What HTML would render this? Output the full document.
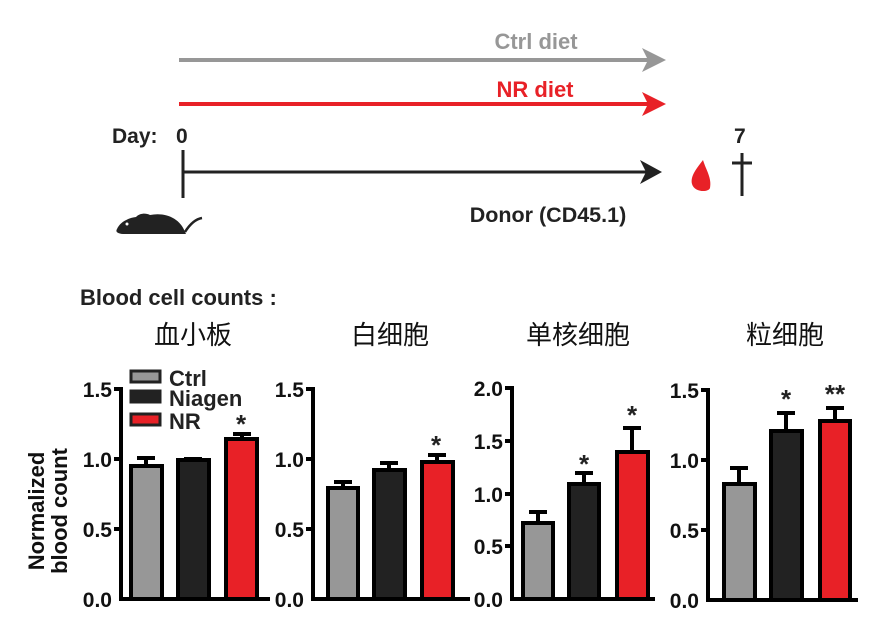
<!DOCTYPE html>
<html><head><meta charset="utf-8"><style>
html,body{margin:0;padding:0;background:#fff;}
svg{display:block;}
text{font-family:"Liberation Sans","Noto Sans CJK SC",sans-serif;}
.b{font-weight:bold;}
.t{font-size:21px;font-weight:bold;fill:#111;}
</style></head><body>
<svg width="893" height="627" viewBox="0 0 893 627" xmlns="http://www.w3.org/2000/svg">
<text x="536" y="49" text-anchor="middle" class="b" font-size="22" fill="#979797">Ctrl diet</text>
<line x1="179" y1="60" x2="650" y2="60" stroke="#979797" stroke-width="4"/>
<polygon points="642,48 666,60 642,72 648,60" fill="#979797"/>
<text x="535" y="97" text-anchor="middle" class="b" font-size="22" fill="#e82127">NR diet</text>
<line x1="179" y1="104" x2="650" y2="104" stroke="#e82127" stroke-width="4"/>
<polygon points="642,92 666,104 642,116 648,104" fill="#e82127"/>
<text x="112" y="143" class="b" font-size="21" fill="#222">Day:</text>
<text x="176" y="143" class="b" font-size="21" fill="#222">0</text>
<line x1="183" y1="150" x2="183" y2="198" stroke="#222" stroke-width="3"/>
<line x1="183" y1="172" x2="650" y2="172" stroke="#222" stroke-width="3"/>
<polygon points="640,160 662,172 640,184 646,172" fill="#222"/>
<text x="734" y="143" class="b" font-size="21" fill="#222">7</text>
<line x1="742" y1="153" x2="742" y2="196" stroke="#222" stroke-width="3"/>
<line x1="732" y1="163" x2="752" y2="163" stroke="#222" stroke-width="3"/>
<path d="M703,160 C697,168 690,176 692,184 C694,192 708,193 710,188 C712,178 706,170 703,160 Z" fill="#e82127"/>
<text x="548" y="222" text-anchor="middle" class="b" font-size="21.5" fill="#222">Donor (CD45.1)</text>
<path d="M117,229 C120,222 128,218 136,217 C140,213 146,213 150,215 C165,212 180,218 185,232 L186,234 L125,234 C118,234 115,232 117,229 Z" fill="#222"/>
<path d="M185,232 C190,224 196,219 202,218" stroke="#222" stroke-width="2.5" fill="none"/>
<circle cx="127" cy="224" r="1.5" fill="#fff"/>

<text x="80" y="305" class="b" font-size="22" fill="#222">Blood cell counts :</text>
<text x="193" y="344" text-anchor="middle" font-size="26" fill="#111">血小板</text>
<text x="390" y="344" text-anchor="middle" font-size="26" fill="#111">白细胞</text>
<text x="578" y="344" text-anchor="middle" font-size="26" fill="#111">单核细胞</text>
<text x="785" y="344" text-anchor="middle" font-size="26" fill="#111">粒细胞</text>

<text transform="translate(44,511) rotate(-90)" text-anchor="middle" class="b" font-size="22" fill="#111">Normalized</text>
<text transform="translate(67,511) rotate(-90)" text-anchor="middle" class="b" font-size="22" fill="#111">blood count</text>

<!-- Panel 1 -->
<g stroke="#000" stroke-width="4">
<line x1="121" y1="387" x2="121" y2="601"/>
<line x1="119" y1="599" x2="270" y2="599"/>
<line x1="114" y1="389" x2="121" y2="389"/><line x1="114" y1="459" x2="121" y2="459"/><line x1="114" y1="529" x2="121" y2="529"/>
</g>
<g class="t" text-anchor="end">
<text x="112" y="397">1.5</text><text x="112" y="467">1.0</text><text x="112" y="537">0.5</text><text x="112" y="607">0.0</text>
</g>
<g stroke="#000" stroke-width="4">
<line x1="146" y1="466" x2="146" y2="458"/><line x1="137" y1="458" x2="155" y2="458"/>
<rect x="131" y="466" width="31" height="133" fill="#979797"/>
<line x1="193" y1="460" x2="193" y2="459"/><line x1="184" y1="459" x2="202" y2="459"/>
<rect x="178" y="460" width="31" height="139" fill="#222"/>
<line x1="242" y1="439" x2="242" y2="434"/><line x1="233" y1="434" x2="251" y2="434"/>
<rect x="226" y="439" width="31" height="160" fill="#e82127"/>
</g>
<text x="241" y="433" text-anchor="middle" class="b" font-size="26" fill="#222">*</text>
<g stroke="#222" stroke-width="3">
<rect x="131" y="371" width="29" height="11" fill="#979797"/>
<rect x="131" y="391" width="29" height="11" fill="#222"/>
<rect x="131" y="414" width="29" height="11" fill="#e82127"/>
</g>
<g class="b" font-size="22" fill="#222">
<text x="169" y="386">Ctrl</text><text x="169" y="406">Niagen</text><text x="169" y="429">NR</text>
</g>

<!-- Panel 2 -->
<g stroke="#000" stroke-width="4">
<line x1="313" y1="387" x2="313" y2="601"/>
<line x1="311" y1="599" x2="470" y2="599"/>
<line x1="306" y1="389" x2="313" y2="389"/><line x1="306" y1="459" x2="313" y2="459"/><line x1="306" y1="529" x2="313" y2="529"/>
</g>
<g class="t" text-anchor="end">
<text x="304" y="397">1.5</text><text x="304" y="467">1.0</text><text x="304" y="537">0.5</text><text x="304" y="607">0.0</text>
</g>
<g stroke="#000" stroke-width="4">
<line x1="343" y1="488" x2="343" y2="482"/><line x1="334" y1="482" x2="352" y2="482"/>
<rect x="328" y="488" width="30" height="111" fill="#979797"/>
<line x1="389" y1="470" x2="389" y2="463"/><line x1="380" y1="463" x2="398" y2="463"/>
<rect x="374" y="470" width="31" height="129" fill="#222"/>
<line x1="437" y1="462" x2="437" y2="455"/><line x1="428" y1="455" x2="446" y2="455"/>
<rect x="422" y="462" width="31" height="137" fill="#e82127"/>
</g>
<text x="436" y="454" text-anchor="middle" class="b" font-size="26" fill="#222">*</text>

<!-- Panel 3 -->
<g stroke="#000" stroke-width="4">
<line x1="512" y1="386" x2="512" y2="601"/>
<line x1="510" y1="599" x2="655" y2="599"/>
<line x1="505" y1="388" x2="512" y2="388"/><line x1="505" y1="441" x2="512" y2="441"/><line x1="505" y1="494" x2="512" y2="494"/><line x1="505" y1="546" x2="512" y2="546"/>
</g>
<g class="t" text-anchor="end">
<text x="503" y="396">2.0</text><text x="503" y="449">1.5</text><text x="503" y="502">1.0</text><text x="503" y="554">0.5</text><text x="503" y="607">0.0</text>
</g>
<g stroke="#000" stroke-width="4">
<line x1="538" y1="523" x2="538" y2="512"/><line x1="529" y1="512" x2="547" y2="512"/>
<rect x="523" y="523" width="30" height="76" fill="#979797"/>
<line x1="584" y1="484" x2="584" y2="473"/><line x1="575" y1="473" x2="593" y2="473"/>
<rect x="569" y="484" width="30" height="115" fill="#222"/>
<line x1="632" y1="452" x2="632" y2="428"/><line x1="623" y1="428" x2="641" y2="428"/>
<rect x="617" y="452" width="31" height="147" fill="#e82127"/>
</g>
<text x="584" y="473" text-anchor="middle" class="b" font-size="26" fill="#222">*</text>
<text x="632" y="424" text-anchor="middle" class="b" font-size="26" fill="#222">*</text>

<!-- Panel 4 -->
<g stroke="#000" stroke-width="4">
<line x1="708" y1="388" x2="708" y2="602"/>
<line x1="706" y1="600" x2="858" y2="600"/>
<line x1="701" y1="390" x2="708" y2="390"/><line x1="701" y1="460" x2="708" y2="460"/><line x1="701" y1="530" x2="708" y2="530"/>
</g>
<g class="t" text-anchor="end">
<text x="699" y="398">1.5</text><text x="699" y="468">1.0</text><text x="699" y="538">0.5</text><text x="699" y="608">0.0</text>
</g>
<g stroke="#000" stroke-width="4">
<line x1="739" y1="484" x2="739" y2="468"/><line x1="730" y1="468" x2="748" y2="468"/>
<rect x="724" y="484" width="31" height="116" fill="#979797"/>
<line x1="786" y1="431" x2="786" y2="413"/><line x1="777" y1="413" x2="795" y2="413"/>
<rect x="771" y="431" width="31" height="169" fill="#222"/>
<line x1="835" y1="421" x2="835" y2="408"/><line x1="826" y1="408" x2="844" y2="408"/>
<rect x="820" y="421" width="30" height="179" fill="#e82127"/>
</g>
<text x="786" y="408" text-anchor="middle" class="b" font-size="26" fill="#222">*</text>
<text x="835" y="403" text-anchor="middle" class="b" font-size="26" fill="#222">**</text>
</svg>
</body></html>
